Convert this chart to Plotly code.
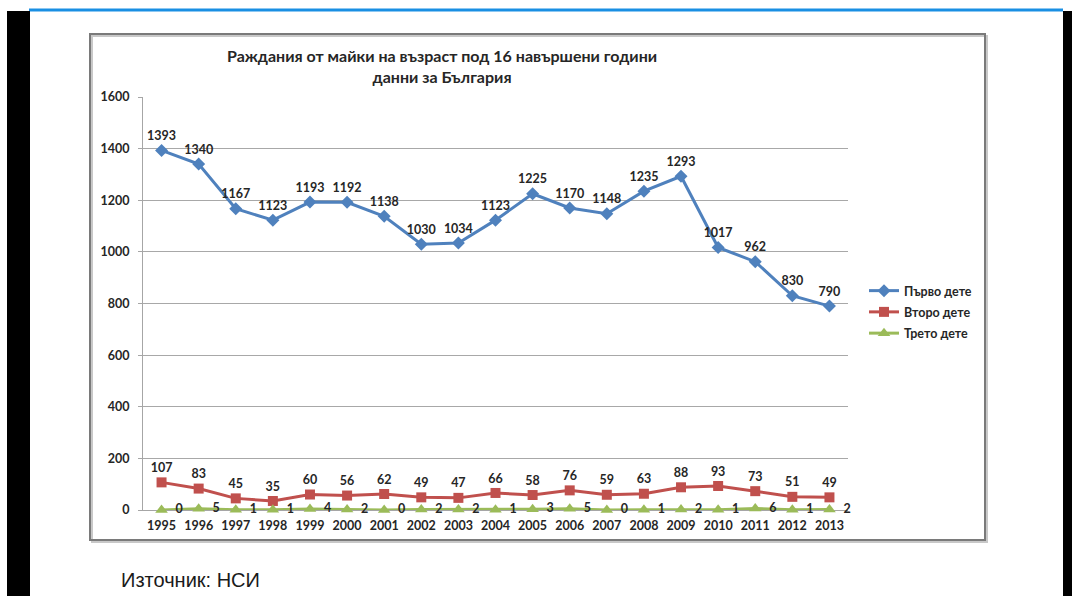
import plotly.graph_objects as go

years = ["1995", "1996", "1997", "1998", "1999", "2000", "2001", "2002", "2003", "2004",
         "2005", "2006", "2007", "2008", "2009", "2010", "2011", "2012", "2013"]
first_child = [1393, 1340, 1167, 1123, 1193, 1192, 1138, 1030, 1034, 1123,
               1225, 1170, 1148, 1235, 1293, 1017, 962, 830, 790]
second_child = [107, 83, 45, 35, 60, 56, 62, 49, 47, 66,
                58, 76, 59, 63, 88, 93, 73, 51, 49]
third_child = [0, 5, 1, 1, 4, 2, 0, 2, 2, 1,
               3, 5, 0, 1, 2, 1, 6, 1, 2]
series_names = ["Първо дете", "Второ дете", "Трето дете"]
y_ticks = [0, 200, 400, 600, 800, 1000, 1200, 1400, 1600]

W, H = 1072, 596
L, R, T, B = 143, 848, 97, 510   # plot area in page pixels


def px(x):
    return (x - L) / (R - L)


def py(y):
    return (B - y) / (B - T)


FONT = "Lato"
TXT = "#262626"
x_idx = list(range(len(years)))

fig = go.Figure()
fig.add_trace(go.Scatter(
    x=x_idx, y=first_child, name=series_names[0], legendgroup="a", mode="lines+markers+text",
    line=dict(color="#4F81BD", width=3),
    marker=dict(symbol="diamond", size=10, color="#4F81BD"),
    text=[str(v) for v in first_child], textposition="top center",
    textfont=dict(family=FONT, size=12.5, color=TXT, weight="bold"),
    cliponaxis=False,
))
fig.add_trace(go.Scatter(
    x=x_idx, y=second_child, name=series_names[1], legendgroup="b", mode="lines+markers+text",
    line=dict(color="#C0504D", width=3),
    marker=dict(symbol="square", size=10, color="#C0504D"),
    text=[str(v) for v in second_child], textposition="top center",
    textfont=dict(family=FONT, size=12.5, color=TXT, weight="bold"),
    cliponaxis=False,
))
fig.add_trace(go.Scatter(
    x=x_idx, y=third_child, name=series_names[2], legendgroup="c", mode="lines+markers+text",
    line=dict(color="#9BBB59", width=3),
    marker=dict(symbol="triangle-up", size=11, color="#9BBB59"),
    text=["  " + str(v) for v in third_child], textposition="middle right",
    textfont=dict(family=FONT, size=12.5, color=TXT, weight="bold"),
    cliponaxis=False,
))

shapes = [
    # document top blue rule
    dict(type="line", xref="paper", yref="paper", x0=px(29), x1=px(1063), y0=py(10), y1=py(10),
         line=dict(color="#1A8FE3", width=3), layer="above"),
    # left black bar
    dict(type="line", xref="paper", yref="paper", x0=px(18.5), x1=px(18.5), y0=py(11), y1=py(600),
         line=dict(color="black", width=23)),
    # right black bar
    dict(type="line", xref="paper", yref="paper", x0=px(1067.5), x1=px(1067.5), y0=py(11), y1=py(600),
         line=dict(color="black", width=9)),
    # chart frame shadow
    dict(type="rect", xref="paper", yref="paper", x0=px(92), x1=px(987), y0=py(36), y1=py(542),
         line=dict(color="#C8C8C8", width=2), layer="below"),
    # chart frame
    dict(type="rect", xref="paper", yref="paper", x0=px(90), x1=px(985), y0=py(34), y1=py(540),
         line=dict(color="#7A7A7A", width=2), layer="below"),
]

annotations = [
    dict(text="<b>Раждания от майки на възраст под 16 навършени години<br>данни за България</b>",
         xref="paper", yref="paper", x=px(442), y=py(66), xanchor="center", yanchor="middle",
         showarrow=False, font=dict(family=FONT, size=16, color=TXT), align="center"),
    dict(text="Източник: НСИ", xref="paper", yref="paper", x=px(119), y=py(580),
         xanchor="left", yanchor="middle", showarrow=False,
         font=dict(family="Liberation Sans", size=20, color="#1a1a1a")),
]

fig.update_layout(
    width=W, height=H,
    margin=dict(l=L, r=W - R, t=T, b=H - B, pad=0),
    paper_bgcolor="white", plot_bgcolor="white",
    showlegend=True,
    legend=dict(x=px(864), y=py(276), xanchor="left", yanchor="top",
                font=dict(family=FONT, size=12.5, color=TXT, weight="bold"),
                bgcolor="rgba(0,0,0,0)", itemwidth=30, tracegroupgap=2),
    shapes=shapes, annotations=annotations,
    font=dict(family=FONT),
)
fig.update_xaxes(
    range=[-0.5, len(years) - 0.5], tickvals=x_idx, ticktext=years,
    tickfont=dict(family=FONT, size=12.5, color=TXT, weight="bold"),
    showgrid=False, zeroline=False, showline=True, linecolor="#A6A6A6", linewidth=1,
    ticks="", ticklabelstandoff=4, layer="below traces",
)
fig.update_yaxes(
    range=[0, 1600], tickvals=y_ticks,
    tickfont=dict(family=FONT, size=12.5, color=TXT, weight="bold"),
    showgrid=True, gridcolor="#A8A8A8", gridwidth=1,
    zeroline=True, zerolinecolor="#A6A6A6", zerolinewidth=1,
    showline=True, linecolor="#A6A6A6", linewidth=1,
    ticks="outside", ticklen=4, tickcolor="#A6A6A6", ticklabelstandoff=6,
    layer="below traces",
)

fig.write_html(
    "out.html",
    config={"displayModeBar": False},
    post_script=("document.documentElement.style.overflow='hidden';"
                 "document.body.style.margin='0px';document.body.style.overflow='hidden';"),
)
